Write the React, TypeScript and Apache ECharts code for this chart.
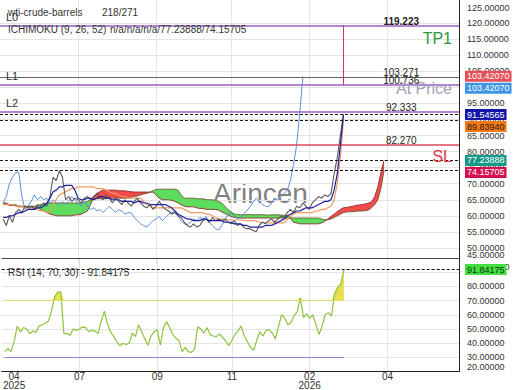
import React, { useEffect, useRef } from "react";
import * as echarts from "echarts";

const FONT = "'Liberation Sans', Arial, sans-serif";
const SLOTS = 148;
const START = 1;
const categories = Array.from({ length: SLOTS }, (_, i) => String(i));
const tickIdx = [4, 25, 50, 74, 99, 124];
const tickLabels = ["04\n2025", "07", "09", "11", "02\n2026", "04"];
const gridIdx = [25, 50, 74, 99, 124];
const priceTicks = [50, 55, 60, 65, 70, 75, 80, 85, 90, 95, 100, 105, 110, 115, 120];
const priceEdgeTicks = [125, 45];
const rsiTicks = [30, 40, 50, 60, 70, 80, 90];
const rsiEdgeTicks = [100, 20];

const close = [
  59, 57, 60, 58, 61, 62, 61, 63, 62.5, 63,
  62, 63.5, 63, 64, 63, 66, 72, 71, 74, 72,
  65, 66, 64.5, 65.5, 65, 64, 65.5, 66, 65, 66,
  67, 66, 65, 66.5, 65.5, 64, 65.5, 64.5, 63.5, 65,
  64, 63, 64.5, 65.5, 64, 63, 62.5, 63.5, 62, 63,
  64.5, 63, 62, 61.5, 60.5, 61, 60, 59.5, 58, 57,
  56.5, 57.5, 56.5, 57, 58.5, 59, 58, 59.5, 58.5, 59,
  58.5, 59, 58, 57.5, 58.5, 57, 57.5, 56.5, 56, 56,
  55.5, 55, 57, 58, 57.5, 58.5, 59, 58, 59, 60,
  59.5, 61, 62, 61, 63, 62.5, 64, 63, 62, 64,
  65, 66, 65.5, 66.5, 66, 67, 73, 78, 85, 91.5,
];

const tenkan = [
  59.5, 59.5, 60, 60, 60.5, 61, 61, 61.5, 62, 62,
  62, 62.5, 62.5, 63, 64, 65.5, 67.5, 68, 69, 69,
  69.5, 69.5, 69.5, 68, 65.5, 65, 65, 65.5, 65.5, 65,
  65.5, 66, 66, 65.5, 65.5, 65, 65, 65, 64.5, 64.5,
  64.5, 64.5, 64, 64.5, 64.5, 64, 64, 63.5, 63.5, 63.5,
  63.5, 63.5, 63.5, 63, 62.5, 61.5, 60.5, 60, 59.5, 59,
  59, 58.5, 58.5, 58.5, 59, 59, 58.5, 58.5, 58.5, 58.5,
  58.5, 58, 58, 58, 57.5, 57.5, 57.5, 57, 57, 56.5,
  56.5, 56.5, 56.5, 56.5, 57, 57, 57, 57.5, 58, 58.5,
  59, 60, 60.5, 61, 61.5, 61.5, 62, 62.5, 62.5, 62.5,
  63, 63.5, 64, 64.5, 64.5, 65, 68, 73, 82, 91.54565,
];

const kijun = [
  63.5, 63.5, 63.5, 63.5, 63, 63, 63, 62.5, 62.5, 62,
  62, 62, 61.5, 61.5, 61, 61, 63.5, 65, 66.5, 67,
  67.5, 68, 68.5, 68.5, 69, 69, 69, 69, 69, 69,
  68.5, 68.5, 68.5, 68, 67.5, 67, 67, 66.5, 66, 66,
  65.5, 65.5, 65.5, 65.5, 65.5, 64.5, 63.5, 63, 62.5, 62.5,
  62.5, 62.5, 62.5, 62.5, 62.5, 62.5, 62.5, 62.5, 62, 61.5,
  61, 61, 61, 61, 61, 60.5, 60.5, 60, 59.5, 59,
  59, 59, 58.7, 58.7, 58.7, 58.7, 58.7, 58.7, 58.5, 58.5,
  58.5, 58.5, 58, 58, 58, 57.8, 57.8, 57.8, 57.8, 57.8,
  57.8, 59, 60, 60.5, 61, 61, 61, 61, 61, 61,
  61.5, 61.5, 62, 62, 62.5, 63, 65, 70, 78, 89.8394,
];

const chikou = [
  64, 66, 70, 72, 73.5, 73.5, 66, 62, 63, 64.5,
  66.5, 65, 66, 65, 65.5, 64, 65, 64, 63.5, 64.5,
  63.5, 64.5, 66, 65, 64, 63, 64.5, 63, 62, 62.5,
  61.5, 62, 61, 62, 63, 62, 61, 62, 61.5, 60.5,
  61, 60.9, 59.5, 58.5, 57.5, 57, 56.5, 57.5, 58.5, 59,
  59.8, 58.5, 59.5, 60.5, 61, 61.2, 60, 58.5, 57.5, 57.2,
  58, 59, 58.5, 59.5, 59, 59.8, 58, 57, 56, 55.6,
  57, 58.5, 60.5, 60.9, 60, 59, 59.5, 60.5, 61.5, 62.8,
  64, 65.5, 64.5, 63.5, 63, 62.8, 64, 65.5, 65, 66,
  67, 68, 71, 76, 82, 92, 103.4207,
];

const senkouA = [
  64, 64, 63.5, 63.5, 63.5, 63, 63, 63, 63, 63, 63, 63,
  63.5, 63.5, 64, 64, 64, 64, 64, 64,
  64, 64, 64, 64, 64, 64, 64.2, 64.5, 65, 65.2,
  65.3, 65.3, 65.3, 65.3, 65.5, 65.5, 65.5, 65.5, 65.5, 65.5,
  65.5, 65.8, 66, 66.2, 66.5, 66.8, 67, 67.3, 67.8, 68.2,
  68.3, 68.3, 68.3, 68.3, 68.3, 68.3, 68, 66.5, 65.5, 65.5,
  65.5, 65.5, 65.3, 65.3, 65.3, 65, 65, 65, 64.8, 64.5,
  64, 63, 62, 61.2, 60.6, 60.4, 60.3, 60.3, 60.4, 60.4,
  60.3, 60.3, 60.4, 60.3, 60.3, 60.2, 60.3, 60.3, 60.3, 60.2,
  60.2, 60, 59.5, 59.3, 59.3, 59.3, 59.3, 59.3, 59.3, 59.3,
  59.3, 59.3, 59, 58.8, 58.8, 59, 59.5, 60, 60.5, 61,
  61.2, 61.3, 61.3, 61.4, 61.5, 61.5, 61.6, 61.8, 62.5, 63.5,
  65, 68.5, 74.15705,
];

const senkouB = [
  63.7, 63.7, 63.2, 63.2, 63.2, 62.8, 62.8, 62.8, 62.8, 62.7, 62.7, 62.7,
  62, 61.5, 61, 60.5, 60.3, 60, 60, 60,
  60, 60, 60, 60.3, 60.3, 60.5, 61, 61.5, 63.5, 66,
  67, 67.5, 68, 68, 68, 68, 68, 67.8, 67.8, 67.8,
  67.6, 67.5, 67.4, 67.4, 67.4, 67.4, 67.4, 67.4, 67.4, 66.5,
  65.5, 65, 65, 65, 64.8, 64.5, 64, 63.5, 63, 62.8,
  62.8, 62.8, 62.5, 62.3, 62.3, 62, 62, 62, 62, 61.8,
  61.2, 60.8, 60.3, 59.8, 59.5, 59.4, 59.3, 59.3, 59.3, 59.3,
  59.3, 59.3, 59.3, 59.3, 59.3, 59.3, 59.3, 59.3, 59.3, 59.3,
  59.3, 59.3, 59.2, 58, 57.8, 57.5, 57.5, 57.5, 57.5, 57.5,
  57.5, 57.5, 57.8, 58.3, 59, 59.8, 60.5, 61.3, 62, 62.5,
  62.6, 62.8, 63, 63.2, 63.4, 63.5, 63.7, 64, 64.3, 66,
  69, 73.5, 77.23888,
];

const rsi = [
  34, 36, 34, 41, 52, 48, 51, 50, 46.7, 48.7,
  47.5, 52, 53, 54, 55.5, 62.6, 72.4, 76, 76, 46.7,
  46.7, 45.5, 50, 49, 50, 51.5, 51, 48, 49, 48.5,
  46.7, 55.7, 62.6, 53.5, 48, 44.6, 41, 38.3, 39.7, 39,
  40, 47, 44.6, 53, 48, 43, 38.5, 45, 48, 49.5,
  38.5, 51, 55, 51, 46, 43.5, 41.8, 34, 37, 34,
  33.5, 36, 51.5, 50, 47, 51, 46, 45, 44.6, 46.5,
  44, 41.5, 38.3, 42, 46, 48.7, 52, 45, 41, 37,
  35, 42, 48, 45, 49, 49.5, 47, 43, 52, 60,
  57.5, 53, 54.5, 59.5, 62, 72, 58, 60.6, 57.5, 60,
  53, 46, 52, 60, 61.5, 59, 75, 79.3, 81.5, 91.84175,
];

const levelNames = ["L0", "L1", "L2"];
const levelPrices = [119.223, 100.736, 92.333];
const resistPrice = 103.271;
const stopPrice = 82.27;
const lastPrice = 103.4207;
const OB = 70;
const OS = 30;

const lastIdx = START + close.length - 1;
const last = (a: number[]) => a[a.length - 1];
const pairs = (a: number[]) => a.map((v, k) => [k + START, v]);

// cloud as stacked bands: base = lower span, then the gap coloured by which span is on top
const cloudBase = senkouA.map((a, k) => Math.min(a, senkouB[k]));
const cloudUp = senkouA.map((a, k) => (a >= senkouB[k] ? a - senkouB[k] : 0));
const cloudDown = senkouA.map((a, k) => (senkouB[k] > a ? senkouB[k] - a : 0));
const rsiBase = rsi.map(() => OB);
const rsiOver = rsi.map((r) => Math.max(r - OB, 0));

const HIDDEN = "rgba(0,0,0,0)";
const purple = "#9c5cc4";
const dashed = (v: number) => ({ yAxis: v, lineStyle: { color: "#111", type: [3, 2], width: 1 } });
const valueSeg = (v: number, bold = false) => [
  {
    coord: [lastIdx, v],
    lineStyle: { color: HIDDEN, width: 1, type: "solid" },
    label: {
      show: true, position: "insideMiddleTop", formatter: v.toFixed(3), color: "#222",
      fontSize: 10, fontWeight: bold ? "bold" : "normal", distance: [0, -1],
    },
  },
  { coord: [SLOTS - 1, v] },
];
const levelLine = (k: number) => ({
  yAxis: levelPrices[k],
  lineStyle: { color: purple, width: 1.5, type: "solid" },
  label: { show: true, position: "insideStartTop", formatter: levelNames[k], color: "#333", fontSize: 11, distance: [6, 3] },
});
const bigLabel = (v: number, text: string, color: string, dy: number) => ({
  yAxis: v,
  lineStyle: { color: HIDDEN, width: 1, type: "solid" },
  label: { show: true, position: "insideEndBottom", formatter: text, color, fontSize: 16, distance: [7, dy] },
});

const lineBase = { type: "line", symbol: "none", showSymbol: false, silent: true, emphasis: { disabled: true } };
const noLine = { width: 0, color: HIDDEN };
const labelStyle = { fontSize: 9, fontFamily: FONT, fill: "#333", verticalAlign: "middle", align: "left" };

function buildOption(): any {
  const xCommon = {
    type: "category",
    data: categories,
    boundaryGap: false,
    axisTick: { show: false },
    splitLine: { show: true, interval: (i: number) => gridIdx.includes(i), lineStyle: { color: "#e4e4e4" } },
  };
  const yLabel = { color: "#333", fontSize: 9, margin: 8, formatter: (v: number) => v.toFixed(5) };
  return {
    animation: false,
    textStyle: { fontFamily: FONT },
    grid: [
      { left: 0, right: 61, top: 0, height: 264 },
      { left: 0, right: 61, top: 258, height: 115 },
    ],
    xAxis: [
      { ...xCommon, gridIndex: 0, axisLine: { show: false }, axisLabel: { show: false } },
      {
        ...xCommon, gridIndex: 1,
        axisLine: { show: true, lineStyle: { color: "#222" } },
        axisLabel: {
          interval: (i: number) => tickIdx.includes(i),
          formatter: (v: string) => tickLabels[tickIdx.indexOf(Number(v))] ?? "",
          color: "#333", fontSize: 10, lineHeight: 9, margin: 0,
        },
      },
    ],
    yAxis: [
      {
        type: "value", gridIndex: 0, position: "right", min: 45, max: 127.2,
        axisLine: { show: true, lineStyle: { color: "#222" } },
        axisTick: { show: false, customValues: priceTicks },
        axisLabel: { ...yLabel, customValues: priceTicks },
        splitLine: { lineStyle: { color: "#e4e4e4" } },
      },
      {
        type: "value", gridIndex: 1, position: "right", min: 20, max: 100,
        axisLine: { show: true, lineStyle: { color: "#222" } },
        axisTick: { show: false, customValues: rsiTicks },
        axisLabel: { ...yLabel, customValues: rsiTicks },
        splitLine: { lineStyle: { color: "#e4e4e4" } },
      },
    ],
    graphic: [
      { type: "text", x: 213, y: 193, z: 0, style: { text: "Arincen", fontSize: 28, fontFamily: FONT, fill: "rgba(105,105,105,0.85)", verticalAlign: "middle" } },
      { type: "text", x: 8, y: 12, z: 50, style: { text: "wti-crude-barrels", fontSize: 10, fontFamily: FONT, fill: "#333", verticalAlign: "middle" } },
      { type: "text", x: 102, y: 12, z: 50, style: { text: "218/271", fontSize: 10, fontFamily: FONT, fill: "#333", verticalAlign: "middle" } },
      { type: "text", x: 8, y: 29, z: 50, style: { text: "ICHIMOKU (9, 26, 52)", fontSize: 10, fontFamily: FONT, fill: "#333", verticalAlign: "middle" } },
      {
        type: "text", x: 110, y: 29, z: 50,
        style: { text: `n/a/n/a/n/a/${last(senkouB).toFixed(5)}/${last(senkouA).toFixed(5)}`, fontSize: 10, fontFamily: FONT, fill: "#333", verticalAlign: "middle" },
      },
      {
        type: "text", x: 8, y: 272, z: 50,
        style: { text: `RSI (14, ${OB}, ${OS}) - ${last(rsi).toFixed(5)}`, fontSize: 10, fontFamily: FONT, fill: "#333", verticalAlign: "middle" },
      },
    ],
    series: [
      { ...lineBase, xAxisIndex: 0, yAxisIndex: 0, z: 1, stack: "cloud", data: pairs(cloudBase), lineStyle: noLine },
      { ...lineBase, xAxisIndex: 0, yAxisIndex: 0, z: 1, stack: "cloud", data: pairs(cloudUp), lineStyle: noLine, areaStyle: { color: "#5edc5e", opacity: 1 } },
      { ...lineBase, xAxisIndex: 0, yAxisIndex: 0, z: 1, stack: "cloud", data: pairs(cloudDown), lineStyle: noLine, areaStyle: { color: "#f24a4a", opacity: 1 } },
      { ...lineBase, xAxisIndex: 0, yAxisIndex: 0, z: 2, data: pairs(senkouA), lineStyle: { color: "#6a5a2a", width: 0.9 } },
      { ...lineBase, xAxisIndex: 0, yAxisIndex: 0, z: 2, data: pairs(senkouB), lineStyle: { color: "#8a2a2a", width: 0.9 } },
      { ...lineBase, xAxisIndex: 0, yAxisIndex: 0, z: 3, data: pairs(chikou), lineStyle: { color: "#5d8fe0", width: 1 } },
      { ...lineBase, xAxisIndex: 0, yAxisIndex: 0, z: 3, data: pairs(kijun), lineStyle: { color: "#f09a60", width: 1.2 } },
      { ...lineBase, xAxisIndex: 0, yAxisIndex: 0, z: 4, data: pairs(close), lineStyle: { color: "#5a5a5a", width: 1.1 } },
      {
        ...lineBase, xAxisIndex: 0, yAxisIndex: 0, z: 5, data: pairs(tenkan), lineStyle: { color: "#1f1f9a", width: 1.2 },
        markLine: {
          symbol: ["none", "none"], silent: true, animation: false, label: { show: false },
          data: [
            levelLine(0),
            bigLabel(levelPrices[0], "TP1", "#2a9a3a", 5),
            valueSeg(levelPrices[0], true),
            { yAxis: resistPrice, lineStyle: { color: "#666", width: 1, type: "solid" } },
            valueSeg(resistPrice),
            levelLine(1),
            bigLabel(levelPrices[1], "At Price", "#a2a2b6", -4),
            valueSeg(levelPrices[1]),
            levelLine(2),
            valueSeg(levelPrices[2]),
            dashed(last(tenkan)),
            dashed(last(kijun)),
            { yAxis: stopPrice, lineStyle: { color: "#d84858", width: 1.5, type: "solid" } },
            valueSeg(stopPrice),
            bigLabel(stopPrice, "SL", "#e03545", 4),
            dashed(last(senkouB)),
            dashed(last(senkouA)),
            [
              { coord: [lastIdx, levelPrices[0]], lineStyle: { color: "#c8385a", width: 1, type: "solid" } },
              { coord: [lastIdx, levelPrices[1]] },
            ],
          ],
        },
      },
      { ...lineBase, xAxisIndex: 1, yAxisIndex: 1, z: 1, stack: "ob", data: pairs(rsiBase), lineStyle: noLine },
      { ...lineBase, xAxisIndex: 1, yAxisIndex: 1, z: 1, stack: "ob", data: pairs(rsiOver), lineStyle: noLine, areaStyle: { color: "#e6dc3c", opacity: 0.9 } },
      {
        ...lineBase, xAxisIndex: 1, yAxisIndex: 1, z: 3, data: pairs(rsi), lineStyle: { color: "#8cc43c", width: 1.2 },
        markLine: {
          symbol: ["none", "none"], silent: true, animation: false, label: { show: false },
          data: [
            { yAxis: 100, lineStyle: { color: "#444", width: 1, type: "solid" } },
            { yAxis: last(rsi), lineStyle: { color: "#111", type: [3, 2], width: 1 } },
            [{ coord: [START, OB], lineStyle: { color: "#dcdc70", width: 1.2, type: "solid" } }, { coord: [lastIdx, OB] }],
            [{ coord: [START, OS], lineStyle: { color: "#8a8ad8", width: 1.2, type: "solid" } }, { coord: [lastIdx, OS] }],
          ],
        },
      },
    ],
  };
}

const tagDefs = [
  { v: lastPrice, bg: "#e5505a", fg: "#ffffff" },
  { v: last(chikou), bg: "#3d94e8", fg: "#ffffff" },
  { v: last(tenkan), bg: "#1414a8", fg: "#ffffff" },
  { v: last(kijun), bg: "#f07a18", fg: "#3a1a00" },
  { v: last(senkouB), bg: "#17998a", fg: "#ffffff" },
  { v: last(senkouA), bg: "#d4104e", fg: "#ffffff" },
];

export default function App() {
  const ref = useRef<HTMLDivElement>(null);
  useEffect(() => {
    if (!ref.current) return;
    const chart = echarts.init(ref.current, undefined, { renderer: "svg" });
    const option = buildOption();
    chart.setOption(option);
    const toY = (axis: number, v: number) => Number(chart.convertToPixel({ yAxisIndex: axis } as any, v));
    const paneSep = toY(1, rsiEdgeTicks[0]);
    // tick labels at the pane borders, kept inside their pane as the reference does
    const edge = [
      { text: priceEdgeTicks[0].toFixed(5), y: Math.max(toY(0, priceEdgeTicks[0]), 7) + 1 },
      { text: priceEdgeTicks[1].toFixed(5), y: Math.min(toY(0, priceEdgeTicks[1]), paneSep - 3) },
      { text: rsiEdgeTicks[0].toFixed(5), y: paneSep + 9 },
      { text: rsiEdgeTicks[1].toFixed(5), y: toY(1, rsiEdgeTicks[1]) - 5 },
    ].map((e) => ({ type: "text", x: 467, y: e.y, z: 120, style: { ...labelStyle, text: e.text } }));
    let prev = -Infinity;
    const tag = (text: string, y: number, bg: string, fg: string) => ({
      type: "text", x: 465, y, z: 130,
      style: { text, fontSize: 9, fontFamily: FONT, fill: fg, backgroundColor: bg, padding: [1, 2, 1, 2], verticalAlign: "middle", align: "left" },
    });
    const tags = tagDefs.map((t) => {
      let y = toY(0, t.v);
      if (y < prev + 12) y = prev + 12;
      prev = y;
      return tag(t.v.toFixed(5), y, t.bg, t.fg);
    });
    tags.push(tag(last(rsi).toFixed(5), toY(1, last(rsi)), "#44dd44", "#0a3a0a"));
    chart.setOption({ graphic: [...option.graphic, ...edge, ...tags] });
    return () => chart.dispose();
  }, []);
  return <div ref={ref} style={{ position: "fixed", left: 0, top: 0, width: 520, height: 390, background: "#fff" }} />;
}
